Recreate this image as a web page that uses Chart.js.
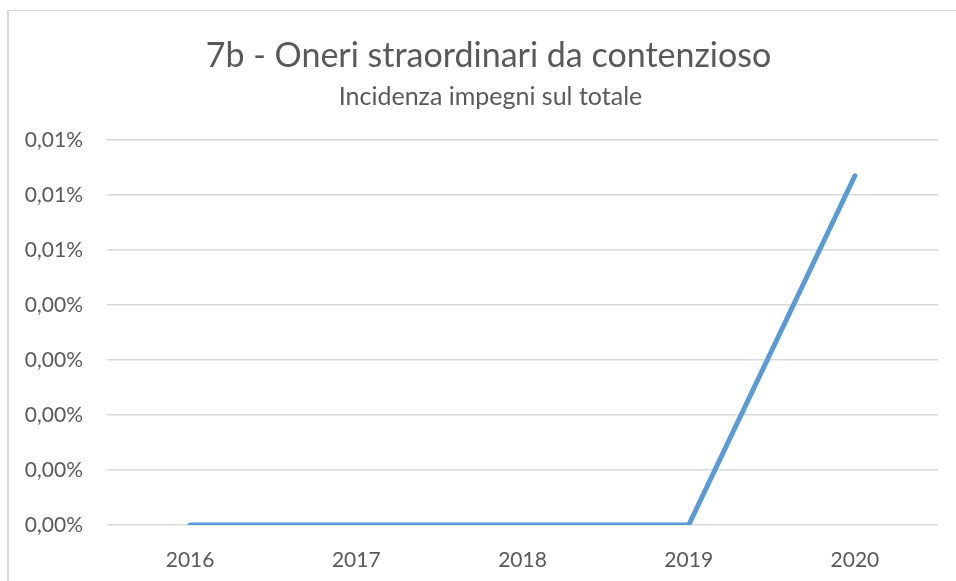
<!DOCTYPE html>
<html>
<head>
<meta charset="utf-8">
<script src="https://cdn.jsdelivr.net/npm/chart.js@4/dist/chart.umd.min.js"></script>
<style>
  html, body { margin: 0; padding: 0; background: #fff; }
  #wrap { width: 956px; height: 581px; position: relative; }
</style>
</head>
<body>
<div id="wrap"><canvas id="grafico"></canvas></div>
<script>
const anni = ['2016', '2017', '2018', '2019', '2020'];
// quota sul totale degli impegni (frazione, 0.0000635 = 0,00635%)
const incidenza = [0, 0, 0, 0, 0.0000635];
const asseMax = 0.00007;
const asseStep = 0.00001;
const titolo = '7b - Oneri straordinari da contenzioso';
const sottotitolo = 'Incidenza impegni sul totale';

const testo = '#595959';
const griglia = '#d9d9d9';
const font = 'Lato, "Open Sans", sans-serif';

// cornice grigia del riquadro
const cornice = {
  id: 'cornice',
  beforeDraw(chart) {
    const ctx = chart.ctx;
    ctx.save();
    ctx.fillStyle = griglia;
    ctx.fillRect(7, 10, 2, chart.height - 10);
    ctx.fillRect(7, 10, chart.width - 7, 1);
    ctx.restore();
  }
};

// titolo e sottotitolo centrati sul riquadro (non sull'area del canvas)
const intestazione = {
  id: 'intestazione',
  afterDraw(chart) {
    const ctx = chart.ctx;
    const cx = (7 + chart.width + 14) / 2;
    ctx.save();
    ctx.fillStyle = testo;
    ctx.textAlign = 'center';
    ctx.textBaseline = 'middle';
    ctx.font = '34px ' + font;
    ctx.fillText(titolo, cx, 56);
    ctx.font = '25px ' + font;
    ctx.fillText(sottotitolo, cx + 2, 97);
    ctx.restore();
  }
};

// etichette in percentuale con due decimali e virgola
const formatta = (v) => {
  const millesimi = Math.round(v * 100000);
  return (Math.round(millesimi / 10) / 100).toFixed(2).replace('.', ',') + '%';
};

new Chart(document.getElementById('grafico'), {
  type: 'line',
  data: {
    labels: anni,
    datasets: [{
      label: 'Incidenza',
      data: incidenza,
      borderColor: '#5B9BD5',
      borderWidth: 5,
      borderCapStyle: 'round',
      pointRadius: 0,
      fill: false,
      tension: 0
    }]
  },
  options: {
    responsive: true,
    maintainAspectRatio: false,
    animation: false,
    layout: { padding: { left: 0, right: 18, top: 140, bottom: 0 } },
    plugins: {
      legend: { display: false },
      tooltip: { enabled: false },
      title: { display: false },
      subtitle: { display: false }
    },
    scales: {
      x: {
        offset: true,
        grid: { display: false },
        border: { display: false },
        ticks: { color: testo, font: { family: font, size: 21 }, padding: 15 },
        afterFit(scale) { scale.height = 56; }
      },
      y: {
        min: 0,
        max: asseMax,
        grid: { color: griglia, lineWidth: 1.5, drawTicks: false },
        border: { display: false },
        ticks: {
          stepSize: asseStep,
          color: testo,
          font: { family: font, size: 21 },
          padding: 24,
          callback: (v) => formatta(v)
        },
        afterFit(scale) { scale.width = 107; }
      }
    }
  },
  plugins: [cornice, intestazione]
});
</script>
</body>
</html>
